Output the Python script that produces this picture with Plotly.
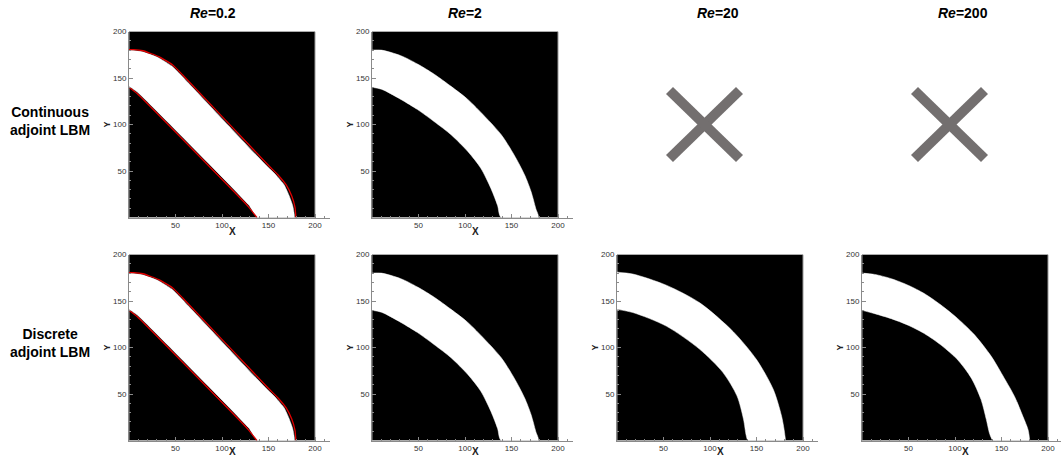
import plotly.graph_objects as go

# ---------------- data ----------------
col_titles = ["0.2", "2", "20", "200"]
row_titles = ["Continuous<br>adjoint LBM", "Discrete<br>adjoint LBM"]
x_tickvals = [50, 100, 150, 200]
y_tickvals = [50, 100, 150, 200]
domain_size = 200

# Re = 0.2 design (white band boundaries)
re02_outer_x = [0, 13.7, 31.7, 46, 57, 147, 158, 167, 172, 176, 177.7]
re02_outer_y = [180, 178.4, 171.9, 163, 152, 56.6, 45.8, 35, 24, 13, 0]
re02_inner_x = [0, 10, 129, 138]
re02_inner_y = [141, 134, 13.3, 0]
# Re = 0.2 red contour
re02_red_outer_x = [0, 5, 15, 32, 47, 58, 149, 160, 169, 175, 178.5, 179.5]
re02_red_outer_y = [180.5, 180.5, 179.3, 173, 164, 153, 57, 46, 35, 23, 11, 0]
re02_red_inner_x = [0, 9, 128, 137.5]
re02_red_inner_y = [140, 133, 12, 0]

# Re = 2 design
re2_outer_x = [0, 10, 31, 49, 67, 85, 103, 121, 139, 153, 164, 171, 176, 178.6]
re2_outer_y = [180, 180, 174, 165, 154, 141, 127, 109, 89, 67, 46, 28, 10, 0]
re2_inner_x = [0, 10, 31, 49, 67, 85, 103, 117, 128, 135, 139]
re2_inner_y = [140, 138, 127, 116, 103, 89, 71, 53, 31, 13, 0]

# Re = 20 design
re20_outer_x = [0, 17, 53, 89, 125, 150, 168, 177, 180.6, 180.6]
re20_outer_y = [181, 179, 167, 148, 117, 87, 55, 26, 5, 0]
re20_inner_x = [0, 17, 53, 89, 114, 129, 136, 139, 141]
re20_inner_y = [141, 137.6, 123, 98, 73, 48, 23, 5, 0]

# Re = 200 design
re200_outer_x = [0, 13.6, 31.5, 49.5, 67, 85, 103, 121, 139, 153, 164, 173, 178.5, 180, 180]
re200_outer_y = [180, 178.6, 174, 167, 158, 145.6, 131, 113.6, 90.5, 67, 47.4, 26, 11.8, 2.9, 0]
re200_inner_x = [0, 13.6, 31.5, 49.5, 67, 85, 103, 117.6, 128, 133.7, 137, 139, 141]
re200_inner_y = [140, 136.4, 131, 124, 115, 102.6, 86.6, 67, 44, 22.5, 8, 2.8, 0]

designs = {
    "re02": (re02_outer_x, re02_outer_y, re02_inner_x, re02_inner_y),
    "re2": (re2_outer_x, re2_outer_y, re2_inner_x, re2_inner_y),
    "re20": (re20_outer_x, re20_outer_y, re20_inner_x, re20_inner_y),
    "re200": (re200_outer_x, re200_outer_y, re200_inner_x, re200_inner_y),
}

# panels: (row, col, design); row 0 cols 2,3 have no result (crossed out)
panels = [(0, 0, "re02"), (0, 1, "re2"), (1, 0, "re02"), (1, 1, "re2"),
          (1, 2, "re20"), (1, 3, "re200")]
crossed = [(0, 2), (0, 3)]

# ---------------- layout geometry ----------------
W, H = 1061, 459
col_left = [129, 372, 617, 862]
row_top = [31.5, 254.5]
PX = 0.93  # pixels per unit
XMAX = 216
FONT = "Liberation Sans, Arial, sans-serif"
AX_GRAY = "#8a8a8a"


def xmax(c):
    return min(XMAX, (W - 0.5 - col_left[c]) / PX)


def xdom(c):
    L = col_left[c]
    return [L / W, min(1.0, (L + xmax(c) * PX) / W)]


def ydom(r):
    T = row_top[r]
    return [1 - (T + domain_size * PX) / H, 1 - T / H]


fig = go.Figure()
layout = dict(
    width=W, height=H,
    margin=dict(l=0, r=0, t=0, b=0, autoexpand=False),
    paper_bgcolor="white", plot_bgcolor="white",
    showlegend=False, hovermode=False,
    shapes=[], annotations=[],
)

for i, (r, c, key) in enumerate(panels):
    n = "" if i == 0 else str(i + 1)
    xa, ya = "x" + n, "y" + n
    ox, oy, ix, iy = designs[key]
    smooth = 0.35 if key == "re02" else 0.8
    # black design domain
    layout["shapes"].append(dict(
        type="rect", xref=xa, yref=ya, x0=0, x1=domain_size, y0=0, y1=domain_size,
        fillcolor="black", line=dict(color="#9a9a9a", width=1), layer="below"))
    # white material band
    fig.add_trace(go.Scatter(
        x=list(ox) + list(ix[::-1]), y=list(oy) + list(iy[::-1]),
        fill="toself", fillcolor="white", mode="lines",
        line=dict(color="white", width=0.5, shape="spline", smoothing=smooth),
        xaxis=xa, yaxis=ya))
    if key == "re02":
        for rx, ry in [(re02_red_outer_x, re02_red_outer_y), (re02_red_inner_x, re02_red_inner_y)]:
            fig.add_trace(go.Scatter(x=rx, y=ry, mode="lines",
                                     line=dict(color="#e00000", width=1.3,
                                               shape="spline", smoothing=0.35),
                                     xaxis=xa, yaxis=ya))
    tickfont = dict(family=FONT, size=8, color="#333")
    layout["xaxis" + n] = dict(
        domain=xdom(c), anchor=ya, range=[0, xmax(c)], tickmode="array", tickvals=x_tickvals,
        showgrid=False, zeroline=False, showline=True, linecolor=AX_GRAY, linewidth=1,
        ticks="inside", ticklen=4, tickcolor=AX_GRAY, tickfont=tickfont, automargin=False,
        minor=dict(ticks="inside", ticklen=2, dtick=10, tick0=0, tickcolor=AX_GRAY, showgrid=False),
        fixedrange=True)
    layout["yaxis" + n] = dict(
        domain=ydom(r), anchor=xa, range=[0, domain_size], tickmode="array", tickvals=y_tickvals,
        showgrid=False, zeroline=False, showline=True, linecolor=AX_GRAY, linewidth=1,
        ticks="inside", ticklen=4, tickcolor=AX_GRAY, tickfont=tickfont, automargin=False,
        minor=dict(ticks="inside", ticklen=2, dtick=10, tick0=0, tickcolor=AX_GRAY, showgrid=False),
        title=dict(text="<b>Y</b>", font=dict(family=FONT, size=9, color="#222"), standoff=0),
        fixedrange=True)
    # x-axis title placed just below the tick labels (kept inside the page)
    bottom_px = row_top[r] + domain_size * PX
    xt = dict(text="<b>X</b>", xref="paper", yref="paper",
              x=(col_left[c] + 103) / W, showarrow=False, xanchor="center",
              font=dict(family=FONT, size=10, color="#222"))
    if bottom_px + 20 > H:
        xt.update(y=0, yanchor="bottom")
    else:
        xt.update(y=1 - (bottom_px + 14) / H, yanchor="middle")
    layout["annotations"].append(xt)

# crossed-out panels
for (r, c) in crossed:
    cx = (col_left[c] + 87.5) / W
    cy = 1 - (row_top[r] + 93) / H
    hx, hy = 35 / W, 34 / H
    for sgn in (1, -1):
        layout["shapes"].append(dict(
            type="line", xref="paper", yref="paper",
            x0=cx - hx, x1=cx + hx, y0=cy - sgn * hy, y1=cy + sgn * hy,
            line=dict(color="rgb(115,111,111)", width=10), layer="above"))

# column titles
col_centers = [213, 465, 718, 963]
for t, cxp in zip(col_titles, col_centers):
    layout["annotations"].append(dict(
        text=f"<b><i>Re</i>=" + t + "</b>", xref="paper", yref="paper",
        x=cxp / W, y=1 - 13 / H, showarrow=False, xanchor="center", yanchor="middle",
        font=dict(family=FONT, size=14, color="black")))

# row titles
row_centers = [121, 343]
for t, cyp in zip(row_titles, row_centers):
    layout["annotations"].append(dict(
        text="<b>" + t + "</b>", xref="paper", yref="paper",
        x=50 / W, y=1 - cyp / H, showarrow=False, xanchor="center", yanchor="middle",
        align="center", font=dict(family=FONT, size=14, color="black")))

fig.update_layout(**layout)
fig.write_html("out.html", config={"displayModeBar": False},
               post_script="document.body.style.margin='0px';")
